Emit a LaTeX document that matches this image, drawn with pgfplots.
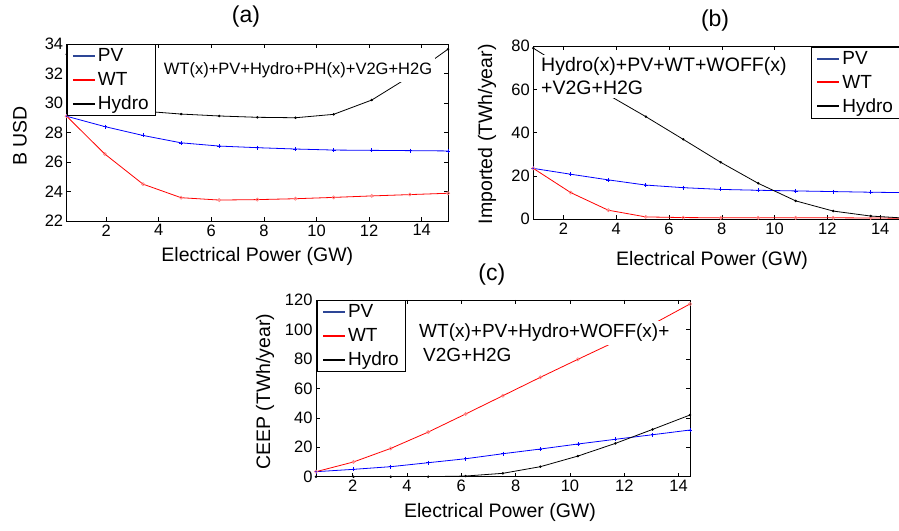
\documentclass[border=0pt]{standalone}
\usepackage{pgfplots}
\pgfplotsset{compat=1.18}
\usepackage{fontspec}
\setmainfont{Liberation Sans}
\definecolor{pvblue}{RGB}{0,0,255}
\definecolor{wtred}{RGB}{255,0,0}
\definecolor{wtmark}{RGB}{255,130,130}
\definecolor{legnavy}{RGB}{45,70,150}
\pgfplotsset{
  myaxis/.style={
    scale only axis, anchor=south west,
    axis line style={black, line width=0.6pt},
    tick align=inside, major tick length=4pt,
    tick style={black, line width=0.5pt},
    /pgf/number format/assume math mode=true,
    tick label style={font=\fontsize{16.5}{16.5}\selectfont},
    label style={font=\fontsize{19.5}{19.5}\selectfont},
    title style={font=\fontsize{23}{23}\selectfont},
    legend style={font=\fontsize{19}{19}\selectfont, draw=black, line width=0.6pt,
      inner xsep=5pt, inner ysep=2.5pt, row sep=5pt, cells={anchor=west}},
    legend cell align=left,
    clip=true,
  },
  pvst/.style={pvblue, line width=0.8pt, mark=+, mark size=2pt, mark options={line width=0.6pt},
    legend image code/.code={\draw[legnavy, line width=2pt] (0pt,0pt) -- (22pt,0pt);}},
  wtst/.style={wtred, line width=0.8pt, mark=o, mark size=1.6pt, mark options={wtmark, line width=0.6pt},
    legend image code/.code={\draw[wtred, line width=2pt] (0pt,0pt) -- (22pt,0pt);}},
  hyst/.style={black, line width=0.8pt, mark=*, mark size=0.8pt,
    legend image code/.code={\draw[black, line width=2pt] (0pt,0pt) -- (22pt,0pt);}},
}
\begin{document}
\begin{tikzpicture}[x=1pt,y=1pt]
\useasboundingbox (0pt,0pt) rectangle (899pt,530pt);
% (a)
\begin{axis}[myaxis, at={(66.7pt,309pt)}, width=381.3pt, height=177pt,
  xmin=0.5, xmax=15, ymin=22, ymax=34,
  xtick={2,4,...,14}, ytick={22,24,...,34},
  title={(a)}, title style={at={(axis description cs:0.47,1.124)}, anchor=center},
  xlabel={Electrical Power (GW)}, xlabel style={at={(axis description cs:0.5,-0.198)}, anchor=center},
  ylabel={B USD}, ylabel style={at={(axis description cs:-0.1225,0.48)}, anchor=center},
  legend style={at={(axis description cs:0,1)}, anchor=north west},
]
\addplot[pvst] coordinates {(0.5,29.1)(1.95,28.4)(3.4,27.8)(4.85,27.3)(6.3,27.08)(7.75,26.97)(9.2,26.88)(10.65,26.81)(12.1,26.79)(13.55,26.77)(15,26.75)};
\addlegendentry{PV}
\addplot[wtst] coordinates {(0.5,29.1)(1.95,26.54)(3.4,24.5)(4.85,23.58)(6.3,23.42)(7.75,23.45)(9.2,23.51)(10.65,23.6)(12.1,23.7)(13.55,23.79)(15,23.88)};
\addlegendentry{WT}
\addplot[hyst] coordinates {(0.5,33.3)(1.95,30.4)(3.4,29.45)(4.85,29.25)(6.3,29.12)(7.75,29.03)(9.2,29.0)(10.65,29.23)(12.1,30.2)(13.55,31.8)(15,33.65)};
\addlegendentry{Hydro}
\end{axis}
% (b)
\begin{axis}[myaxis, at={(533.3pt,310.7pt)}, width=373.3pt, height=173.3pt,
  xmin=0.86, xmax=15, ymin=0, ymax=80,
  xtick={2,4,...,14}, ytick={0,20,...,80},
  title={(b)}, title style={at={(axis description cs:0.487,1.11)}, anchor=center},
  xlabel={Electrical Power (GW)}, xlabel style={at={(axis description cs:0.479,-0.235)}, anchor=center},
  ylabel={Imported (TWh/year)}, ylabel style={at={(axis description cs:-0.1235,0.49)}, anchor=center},
  legend style={at={(axis description cs:0.744,0.996)}, anchor=north west},
]
\addplot[pvst] coordinates {(0.86,23.5)(2.28,20.8)(3.70,18.2)(5.12,15.8)(6.54,14.6)(7.96,13.8)(9.38,13.4)(10.80,13.1)(12.22,12.8)(13.64,12.5)(15.0,12.3)};
\addlegendentry{PV}
\addplot[wtst] coordinates {(0.86,23.5)(2.28,12.3)(3.70,4.2)(5.12,1.1)(6.54,0.8)(7.96,0.7)(9.38,0.7)(10.80,0.7)(12.22,0.7)(13.64,0.6)(15.0,0.5)};
\addlegendentry{WT}
\addplot[hyst] coordinates {(0.86,79)(2.28,68.2)(3.70,57.4)(5.12,47.4)(6.54,36.9)(7.96,26.3)(9.38,16.6)(10.80,8.5)(12.22,3.8)(13.64,1.5)(15.0,0.5)};
\addlegendentry{Hydro}
\end{axis}
% (c)
\begin{axis}[myaxis, at={(316pt,53.3pt)}, width=374pt, height=176.7pt,
  xmin=0.65, xmax=14.42, ymin=0, ymax=120,
  xtick={2,4,...,14}, ytick={0,20,...,120},
  title={(c)}, title style={at={(axis description cs:0.47,1.1075)}, anchor=center},
  xlabel={Electrical Power (GW)}, xlabel style={at={(axis description cs:0.492,-0.2)}, anchor=center},
  ylabel={CEEP (TWh/year)}, ylabel style={at={(axis description cs:-0.136,0.48)}, anchor=center},
  legend style={at={(axis description cs:0.002,1)}, anchor=north west},
]
\addplot[pvst] coordinates {(0.65,3.4)(2.03,5.0)(3.40,6.8)(4.78,9.5)(6.16,12.2)(7.53,15.6)(8.91,18.8)(10.29,22.2)(11.67,25.4)(13.04,28.5)(14.42,31.7)};
\addlegendentry{PV}
\addplot[wtst] coordinates {(0.65,3.4)(2.03,10)(3.40,19.2)(4.78,30.3)(6.16,42.6)(7.53,55)(8.91,67.5)(10.29,79.7)(11.67,91.7)(13.04,103.5)(14.42,117.3)};
\addlegendentry{WT}
\addplot[hyst] coordinates {(0.65,0)(2.03,0)(3.40,0)(4.78,0)(6.16,0.45)(7.53,2.3)(8.91,6.8)(10.29,14)(11.67,22.6)(13.04,32.1)(14.42,41.9)};
\addlegendentry{Hydro}
\end{axis}
% annotations
\node[fill=white, inner xsep=3pt, inner ysep=4pt, font=\fontsize{16.5}{16.5}\selectfont, anchor=center] at (298pt,460pt) {WT(x)+PV+Hydro+PH(x)+V2G+H2G};
\node[fill=white, inner xsep=4pt, inner ysep=3pt, font=\fontsize{19.5}{19.5}\selectfont, anchor=base west] at (537pt,458pt) {Hydro(x)+PV+WT+WOFF(x)};
\node[fill=white, inner xsep=4pt, inner ysep=3pt, font=\fontsize{19.5}{19.5}\selectfont, anchor=base west] at (537pt,435pt) {+V2G+H2G};
\node[fill=white, inner xsep=2pt, inner ysep=3pt, font=\fontsize{19}{19}\selectfont, anchor=base west] at (417pt,192pt) {WT(x)+PV+Hydro+WOFF(x)+};
\node[fill=white, inner xsep=2pt, inner ysep=3pt, font=\fontsize{19}{19}\selectfont, anchor=base west] at (421pt,168pt) {V2G+H2G};
\end{tikzpicture}
\end{document}
